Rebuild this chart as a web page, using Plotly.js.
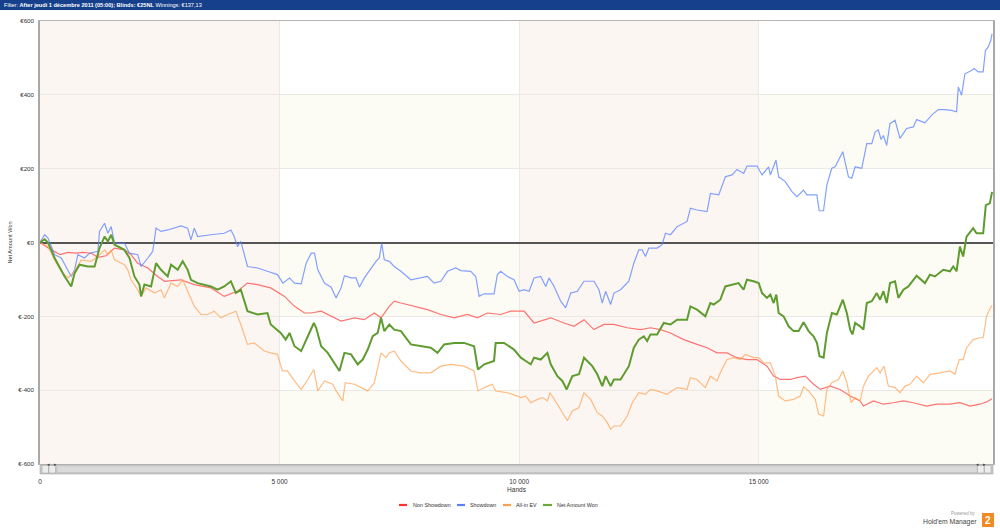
<!DOCTYPE html>
<html>
<head>
<meta charset="utf-8">
<script src="https://cdn.plot.ly/plotly-3.0.1.min.js"></script>
<style>
html,body{margin:0;padding:0;background:#fff;}
#chart{width:1000px;height:530px;}
</style>
</head>
<body>
<div id="chart"></div>
<script>
// ---- Data ----
const seriesNames = ["Non Showdown", "Showdown", "All-in EV", "Net Amount Won"];

const nonShowdownHands = [0,236,420,583,750,900,1069,1208,1380,1555,1763,1900,2040,2250,2457,2600,2940,3220,3570,3845,4120,4330,4540,4816,5104,5312,5520,5660,5868,6076,6284,6562,6770,6978,7117,7290,7394,7533,7810,8088,8366,8643,8921,9130,9337,9615,9824,10104,10312,10451,10660,10937,11145,11354,11562,11770,11978,12256,12533,12741,12950,13158,13436,13713,13921,14130,14338,14546,14754,14962,15173,15312,15451,15660,15798,15972,16145,16284,16492,16700,16909,17117,17186,17395,17603,17811,18020,18228,18505,18713,18991,19199,19407,19615,19754,19870];
const nonShowdownValues = [0,-20,-33,-27,-29,-27,-29,-40,-36,-15,-20,-33,-56,-69,-92,-105,-101,-114,-123,-146,-132,-110,-114,-123,-146,-173,-191,-191,-186,-200,-213,-204,-209,-191,-204,-173,-159,-164,-173,-182,-195,-204,-195,-204,-191,-195,-186,-186,-218,-213,-204,-218,-227,-209,-236,-222,-222,-231,-236,-231,-236,-245,-263,-276,-285,-299,-299,-312,-317,-317,-335,-362,-371,-371,-366,-362,-384,-398,-389,-398,-416,-429,-443,-429,-438,-434,-429,-434,-443,-438,-438,-434,-443,-438,-432,-423];

const showdownHands = [0,97,167,305,444,583,652,722,791,930,1034,1208,1242,1347,1416,1486,1555,1763,1867,2040,2110,2250,2353,2422,2526,2665,2804,2943,3082,3150,3220,3290,3567,3845,3984,4053,4122,4192,4330,4540,4747,4955,5070,5208,5312,5451,5555,5660,5729,5798,5937,6076,6180,6284,6353,6492,6597,6666,6770,6909,7013,7082,7131,7186,7290,7394,7533,7740,7950,8088,8227,8366,8505,8678,8782,8990,9095,9165,9270,9476,9546,9615,9754,9893,10000,10104,10208,10312,10451,10555,10625,10729,10868,10972,11076,11215,11354,11562,11666,11735,11805,11910,11978,12117,12290,12394,12498,12568,12637,12706,12880,12984,13054,13158,13297,13505,13574,13713,13921,13993,14166,14305,14444,14548,14687,14756,14965,15069,15208,15243,15360,15416,15555,15694,15798,15936,16006,16214,16263,16353,16422,16526,16596,16755,16873,16943,17012,17151,17255,17360,17430,17498,17553,17602,17671,17740,17845,17949,18088,18227,18296,18470,18610,18748,18887,19025,19130,19165,19234,19304,19443,19496,19580,19684,19732,19788,19843,19870];
const showdownValues = [0,21,12,-33,-42,-74,-92,-74,-33,-42,-29,-24,30,52,25,43,-2,-2,-29,-33,-65,-42,-24,39,30,34,39,45,39,7,39,16,21,25,34,16,-11,3,-65,-69,-78,-87,-110,-96,-110,-112,-56,-29,-29,-74,-110,-121,-150,-123,-90,-96,-96,-121,-96,-69,-51,-42,-2,-47,-51,-65,-78,-101,-96,-92,-110,-105,-78,-69,-76,-78,-92,-146,-139,-139,-87,-78,-92,-101,-132,-128,-132,-96,-92,-119,-96,-119,-159,-177,-137,-132,-105,-105,-128,-164,-132,-168,-137,-128,-105,-56,-20,-20,-38,-15,-15,-6,25,21,43,57,93,88,84,133,129,178,183,198,187,207,207,183,205,183,223,178,165,138,124,142,129,129,86,86,156,201,205,246,178,174,205,201,268,268,299,305,279,290,263,322,331,282,309,313,333,324,345,360,360,358,354,421,399,457,466,471,462,462,520,529,547,565];

const allInEVHands = [0,167,305,444,583,722,860,1069,1208,1347,1416,1486,1555,1763,1833,1900,2040,2110,2214,2387,2526,2595,2734,2874,2978,3082,3220,3360,3500,3636,3775,3914,4088,4192,4330,4470,4680,4816,4955,5060,5163,5312,5451,5590,5715,5798,5937,6110,6180,6319,6370,6562,6700,6840,6978,7117,7220,7290,7394,7533,7740,7950,8157,8366,8574,8850,9060,9140,9270,9440,9510,9754,9963,10035,10139,10243,10382,10486,10590,10645,10798,11006,11110,11250,11354,11493,11631,11735,11840,11910,11978,12117,12256,12360,12498,12637,12741,12880,13088,13297,13505,13574,13713,13887,13990,14130,14199,14338,14477,14616,14720,14893,15000,15104,15243,15347,15416,15555,15729,15867,15937,16041,16180,16250,16354,16423,16527,16666,16756,16839,16930,17013,17117,17186,17290,17464,17533,17616,17706,17846,17950,18053,18157,18297,18436,18574,18783,18991,19095,19185,19268,19338,19476,19615,19685,19754,19837,19870];
const allInEVValues = [0,-11,-47,-78,-96,-78,-47,-51,-38,-20,-33,-20,-47,-60,-74,-101,-128,-146,-123,-137,-128,-150,-110,-119,-101,-132,-173,-195,-195,-186,-204,-195,-186,-222,-276,-272,-294,-299,-303,-348,-348,-375,-398,-371,-344,-402,-375,-384,-402,-429,-380,-384,-393,-402,-380,-299,-312,-299,-294,-321,-348,-353,-353,-335,-330,-335,-348,-402,-393,-384,-402,-407,-416,-420,-416,-434,-425,-420,-429,-407,-438,-483,-456,-447,-407,-425,-461,-470,-488,-506,-497,-497,-470,-434,-407,-411,-398,-402,-411,-393,-398,-366,-371,-393,-362,-375,-353,-317,-312,-317,-303,-312,-312,-326,-326,-362,-416,-429,-425,-416,-391,-402,-425,-465,-470,-398,-380,-371,-348,-380,-434,-420,-429,-389,-362,-339,-353,-335,-389,-393,-407,-389,-384,-362,-380,-357,-353,-348,-357,-317,-317,-285,-263,-258,-258,-200,-177,-170];

const netWonHands = [0,97,167,305,514,652,722,826,1000,1140,1242,1347,1416,1486,1555,1763,1867,1971,2075,2110,2180,2318,2422,2526,2665,2734,2874,2978,3082,3150,3290,3428,3567,3706,3845,3984,4088,4192,4330,4540,4747,4816,5024,5128,5208,5312,5451,5590,5715,5764,5868,6006,6145,6250,6353,6492,6631,6735,6840,6944,7048,7117,7186,7290,7394,7533,7740,7950,8157,8296,8435,8643,8850,9060,9140,9270,9476,9510,9685,9893,10035,10139,10243,10312,10451,10590,10660,10798,10902,10993,11110,11250,11354,11527,11631,11735,11805,11910,11978,12117,12290,12394,12498,12602,12672,12741,12880,13019,13158,13297,13505,13574,13713,13887,13990,14060,14199,14303,14477,14580,14685,14754,14893,15000,15070,15173,15243,15312,15368,15416,15520,15624,15729,15833,15937,16041,16145,16215,16270,16354,16423,16527,16631,16756,16839,16909,16957,17013,17117,17186,17256,17360,17464,17533,17603,17672,17741,17846,17915,18020,18124,18297,18470,18574,18678,18853,18991,19060,19130,19199,19268,19338,19476,19546,19685,19740,19823,19870];
const netWonValues = [0,9,0,-42,-92,-119,-83,-60,-65,-65,-15,16,3,21,-6,-20,-42,-92,-114,-146,-114,-119,-56,-74,-92,-60,-74,-51,-74,-101,-110,-114,-119,-128,-119,-105,-137,-128,-186,-195,-191,-222,-245,-263,-245,-281,-294,-254,-218,-231,-281,-299,-326,-348,-299,-303,-330,-317,-290,-254,-245,-204,-240,-222,-236,-240,-276,-281,-285,-299,-276,-272,-272,-281,-344,-330,-321,-272,-272,-290,-312,-321,-330,-312,-317,-299,-330,-362,-375,-398,-362,-357,-312,-335,-357,-389,-362,-389,-371,-371,-335,-285,-263,-254,-267,-249,-249,-218,-222,-209,-209,-173,-182,-200,-164,-168,-155,-119,-114,-110,-128,-101,-105,-110,-137,-150,-141,-164,-141,-191,-200,-227,-240,-240,-216,-240,-254,-272,-308,-312,-245,-191,-195,-155,-191,-236,-249,-218,-227,-236,-164,-159,-137,-155,-132,-164,-110,-105,-150,-128,-119,-90,-110,-87,-92,-74,-78,-65,-78,-11,-38,16,39,25,25,101,106,137.13];

const xTickVals = [0, 5000, 10000, 15000];
const xTickText = ["0", "5 000", "10 000", "15 000"];
const yTickVals = [600, 400, 200, 0, -200, -400, -600];
const yTickText = ["€600", "€400", "€200", "€0", "€-200", "€-400", "€-600"];

const headerText = "Filter: <b>After jeudi 1 décembre 2011 (05:00); Blinds: €25NL</b> Winnings: €137,13";

// ---- Styles ----
const lineColors = ["rgba(255,70,70,0.75)", "rgba(90,130,255,0.75)", "rgba(255,165,90,0.75)", "#5e9c30"];
const swatchColors = ["#ff3030", "#5a80ff", "#ffa050", "#6aa83a"];
const lineWidths = [1.2, 1.2, 1.2, 2];

const xs = [nonShowdownHands, showdownHands, allInEVHands, netWonHands];
const ys = [nonShowdownValues, showdownValues, allInEVValues, netWonValues];

const traces = seriesNames.map((n, i) => ({
  type: "scatter", mode: "lines", name: n,
  x: xs[i], y: ys[i],
  line: {color: lineColors[i], width: lineWidths[i], shape: "linear"},
  hoverinfo: "x+y+name"
}));

// page geometry helpers (plot area: x 40..993, y 21..464)
const L = 40, R = 993, T = 21, B = 464;
const px = v => (v - L) / (R - L);
const py = v => (B - v) / (B - T);

const shapes = [];
// horizontal light yellow bands
[[200,400],[-200,0],[-600,-400]].forEach(b => shapes.push({
  type:"rect", xref:"paper", yref:"y", x0:0, x1:1, y0:b[0], y1:b[1],
  fillcolor:"#fdfcf4", line:{width:0}, layer:"below"}));
// vertical pink bands
[[0,5000],[10000,15000]].forEach(b => shapes.push({
  type:"rect", xref:"x", yref:"paper", x0:b[0], x1:b[1], y0:0, y1:1,
  fillcolor:"#fcf6f3", line:{width:0}, layer:"below"}));
// header bar
shapes.push({type:"rect", xref:"paper", yref:"paper", x0:px(0), x1:px(1000), y0:py(0), y1:py(10),
  fillcolor:"#17408c", line:{width:0}});
// scrollbar
shapes.push({type:"rect", xref:"paper", yref:"paper", x0:px(40), x1:px(993), y0:py(464.5), y1:py(474),
  fillcolor:"#c9c9c9", line:{width:0.6, color:"#a8a8a8"}});
shapes.push({type:"rect", xref:"paper", yref:"paper", x0:px(57), x1:px(977), y0:py(466), y1:py(472.5),
  fillcolor:"#dadada", line:{width:0.5, color:"#b8b8b8"}});
[[42,48.5],[49,55.5],[977.5,984],[984.5,991]].forEach(b => shapes.push({
  type:"rect", xref:"paper", yref:"paper", x0:px(b[0]), x1:px(b[1]), y0:py(465.5), y1:py(473),
  fillcolor:"#ececec", line:{width:0.5, color:"#a0a0a0"}}));
// legend swatches
const swatchX = [[399,407],[457,465],[503,511],[543,552]];
swatchX.forEach((s, i) => shapes.push({type:"line", xref:"paper", yref:"paper",
  x0:px(s[0]), x1:px(s[1]), y0:py(505), y1:py(505), line:{color:swatchColors[i], width:2.2}}));
// logo box
shapes.push({type:"rect", xref:"paper", yref:"paper", x0:px(982), x1:px(994), y0:py(513), y1:py(527),
  fillcolor:"#f18a22", line:{width:0}});

const annotations = [];
annotations.push({xref:"paper", yref:"paper", x:px(2), y:py(5), xanchor:"left", yanchor:"middle",
  text: headerText, showarrow:false, font:{family:"Liberation Sans, Arial, sans-serif", size:5.6, color:"#ffffff"}});
const legendTextX = [411, 468, 514, 555];
seriesNames.forEach((n, i) => annotations.push({xref:"paper", yref:"paper", x:px(legendTextX[i]), y:py(505),
  xanchor:"left", yanchor:"middle", text:n, showarrow:false,
  font:{family:"Liberation Sans, Arial, sans-serif", size:5.4, color:"#333"}}));
annotations.push({xref:"paper", yref:"paper", x:px(45.2), y:py(469.5), text:"◂", showarrow:false,
  font:{size:5, color:"#444"}});
annotations.push({xref:"paper", yref:"paper", x:px(52.2), y:py(469.5), text:"▸", showarrow:false,
  font:{size:5, color:"#444"}});
annotations.push({xref:"paper", yref:"paper", x:px(980.7), y:py(469.5), text:"◂", showarrow:false,
  font:{size:5, color:"#444"}});
annotations.push({xref:"paper", yref:"paper", x:px(987.7), y:py(469.5), text:"▸", showarrow:false,
  font:{size:5, color:"#444"}});
annotations.push({xref:"paper", yref:"paper", x:px(978), y:py(513), xanchor:"right", yanchor:"middle",
  text:"Powered by", showarrow:false, font:{family:"Liberation Sans, Arial, sans-serif", size:4.5, color:"#999"}});
annotations.push({xref:"paper", yref:"paper", x:px(979), y:py(521.5), xanchor:"right", yanchor:"middle",
  text:"Hold'em Manager", showarrow:false, font:{family:"Liberation Sans, Arial, sans-serif", size:6.8, color:"#444"}});
annotations.push({xref:"paper", yref:"paper", x:px(988), y:py(520), xanchor:"center", yanchor:"middle",
  text:"<b>2</b>", showarrow:false, font:{family:"Liberation Sans, Arial, sans-serif", size:10, color:"#ffffff"}});

const layout = {
  width: 1000, height: 530,
  margin: {l: L, r: 1000 - R, t: T, b: 530 - B, pad: 0},
  paper_bgcolor: "#ffffff", plot_bgcolor: "#ffffff",
  showlegend: false,
  font: {family: "Liberation Sans, Arial, sans-serif", size: 6.5, color: "#333"},
  xaxis: {
    range: [0, 19890], tickvals: xTickVals, ticktext: xTickText,
    showgrid: true, gridcolor: "#ebe9e6", gridwidth: 1,
    zeroline: false, showline: true, linecolor: "#b5b5b5", linewidth: 1, mirror: true,
    ticks: "outside", ticklen: 11, tickcolor: "rgba(0,0,0,0)",
    tickfont: {size: 6.5, color: "#333"},
    title: {text: "Hands", font: {size: 6.5, color: "#333"}, standoff: 3},
    fixedrange: true
  },
  yaxis: {
    range: [-600, 600], tickvals: yTickVals, ticktext: yTickText,
    showgrid: true, gridcolor: "#ebe9e6", gridwidth: 1,
    zeroline: true, zerolinecolor: "#555555", zerolinewidth: 1.5,
    showline: true, linecolor: "#a8a8a8", linewidth: 1.5, mirror: true,
    ticks: "outside", ticklen: 3, tickcolor: "rgba(0,0,0,0)",
    tickfont: {size: 6.2, color: "#333"},
    title: {text: "Net Amount Won", font: {size: 5.6, color: "#333"}, standoff: 5},
    fixedrange: true
  },
  shapes: shapes,
  annotations: annotations
};

Plotly.newPlot("chart", traces, layout, {displayModeBar: false, staticPlot: false, responsive: false});
</script>
</body>
</html>
